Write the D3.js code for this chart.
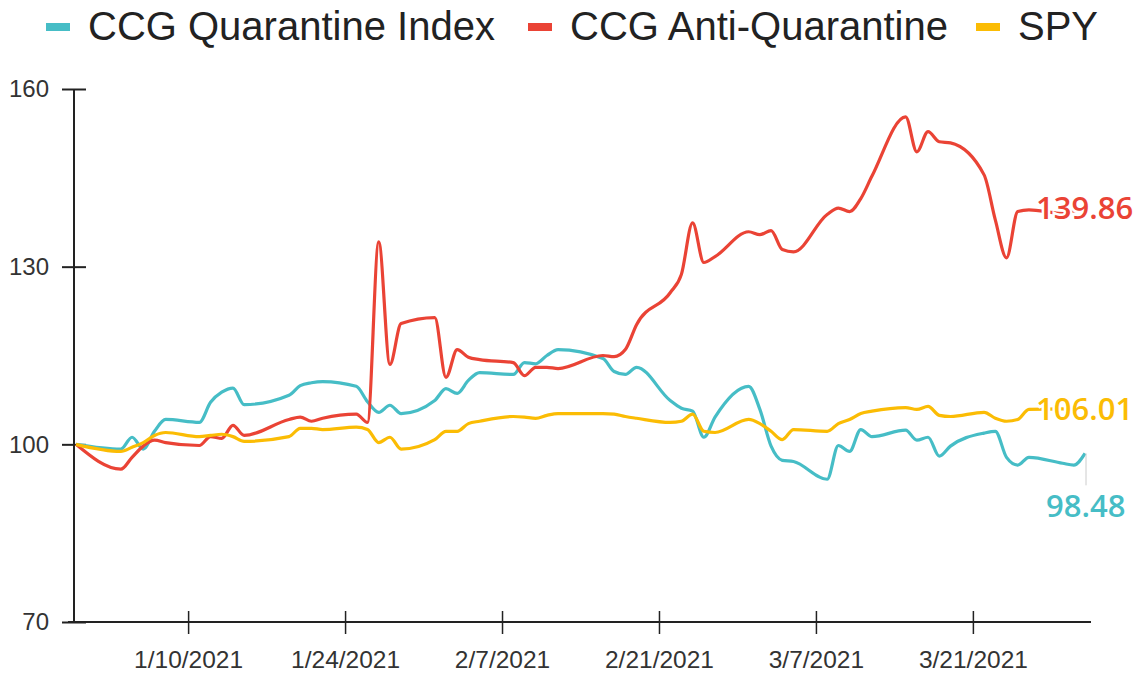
<!DOCTYPE html>
<html>
<head>
<meta charset="utf-8">
<script src="https://cdn.jsdelivr.net/npm/d3@7/dist/d3.min.js"></script>
<style>
  html, body { margin: 0; padding: 0; background: #fff; }
  svg { display: block; }
</style>
</head>
<body>
<svg id="chart" width="1141" height="673"></svg>
<script>
const dates = [
  "2020-12-31",
  "2021-01-04","2021-01-05","2021-01-06","2021-01-07","2021-01-08",
  "2021-01-11","2021-01-12","2021-01-13","2021-01-14","2021-01-15",
  "2021-01-19","2021-01-20","2021-01-21","2021-01-22",
  "2021-01-25","2021-01-26","2021-01-27","2021-01-28","2021-01-29",
  "2021-02-01","2021-02-02","2021-02-03","2021-02-04","2021-02-05",
  "2021-02-08","2021-02-09","2021-02-10","2021-02-11","2021-02-12",
  "2021-02-16","2021-02-17","2021-02-18","2021-02-19",
  "2021-02-22","2021-02-23","2021-02-24","2021-02-25","2021-02-26",
  "2021-03-01","2021-03-02","2021-03-03","2021-03-04","2021-03-05",
  "2021-03-08","2021-03-09","2021-03-10","2021-03-11","2021-03-12",
  "2021-03-15","2021-03-16","2021-03-17","2021-03-18","2021-03-19",
  "2021-03-22","2021-03-23","2021-03-24","2021-03-25","2021-03-26",
  "2021-03-29","2021-03-30","2021-03-31"
];

const quarantine = [
  100,
  99.2, 101.2, 99.2, 102.2, 104.2,
  103.7, 107.1, 108.8, 109.5, 106.7,
  108.3, 109.9, 110.4, 110.6,
  109.8, 107.2, 105.4, 106.6, 105.2,
  107.4, 109.4, 108.6, 110.8, 112.1,
  111.8, 113.8, 113.6, 115.0, 116.0,
  114.5, 112.3, 111.8, 113.0,
  107.4, 106.1, 105.6, 101.2, 104.6,
  109.8, 105.9, 99.7, 97.3, 97.1,
  94.1, 99.8, 98.8, 102.5, 101.3,
  102.4, 100.7, 101.2, 98.0, 99.7,
  101.9, 102.2, 97.8, 96.5, 97.8,
  96.8, 96.5, 98.48
];

const antiQuarantine = [
  100,
  95.8, 97.8, 99.7, 100.7, 100.3,
  99.8, 101.3, 101.0, 103.2, 101.5,
  104.2, 104.6, 103.9, 104.4,
  105.1, 103.7, 134.2, 113.5, 120.4,
  121.4, 111.3, 116.0, 114.7, 114.3,
  113.8, 111.6, 113.0, 113.0, 112.8,
  115.0, 114.8, 116.0, 120.2,
  125.6, 128.7, 137.4, 130.7, 131.7,
  135.9, 135.4, 136.1, 132.9, 132.5,
  138.8, 139.9, 139.3, 141.5, 145.3,
  155.3, 149.4, 152.8, 151.1, 150.9,
  145.5, 137.9, 131.5, 139.3, 139.6,
  139.0, 139.4, 139.86
];

const spy = [
  100,
  98.8, 99.5, 100.3, 101.5, 102.0,
  101.3, 101.5, 101.7, 101.3, 100.5,
  101.3, 102.7, 102.7, 102.5,
  102.9, 102.5, 100.3, 101.2, 99.2,
  100.8, 102.2, 102.2, 103.5, 103.9,
  104.7, 104.6, 104.4, 104.9, 105.2,
  105.2, 105.1, 104.7, 104.4,
  103.7, 103.9, 105.1, 102.2, 102.0,
  104.2, 103.5, 102.2, 100.8, 102.5,
  102.2, 103.5, 104.2, 105.2, 105.6,
  106.2, 105.9, 106.4, 104.9, 104.7,
  105.4, 104.4, 103.9, 104.2, 105.9,
  106.0, 105.8, 106.01
];

const seriesNames = ["CCG Quarantine Index", "CCG Anti-Quarantine", "SPY"];
const seriesColors = ["#46BDC6", "#EA4335", "#FBBC04"];
const yTicks = [70, 100, 130, 160];
const xTickDates = ["2021-01-10","2021-01-24","2021-02-07","2021-02-21","2021-03-07","2021-03-21"];

const parse = d3.utcParse("%Y-%m-%d");
const fmt = d3.utcFormat("%-m/%-d/%Y");
const seriesValues = [quarantine, antiQuarantine, spy];

const svg = d3.select("#chart");
const x = d3.scaleUtc()
  .domain([parse(dates[0]), parse(dates[dates.length - 1])])
  .range([76, 1085]);
const y = d3.scaleLinear().domain([70, 160]).range([622, 89]);

// Legend
const legendX = [46, 528, 976];
const legend = svg.append("g");
seriesNames.forEach((n, i) => {
  legend.append("rect")
    .attr("x", legendX[i]).attr("y", 23).attr("width", 24).attr("height", 8)
    .attr("fill", seriesColors[i]);
  legend.append("text")
    .attr("x", legendX[i] + 42).attr("y", 40)
    .attr("font-family", "Liberation Sans, Arial, sans-serif")
    .attr("font-size", 40).attr("fill", "#222")
    .text(n);
});

// Axes
const axisColor = "#222";
const yAxis = svg.append("g").attr("transform", "translate(74,0)")
  .call(d3.axisLeft(y).tickValues(yTicks).tickSize(12).tickPadding(12).tickFormat(d3.format("d")));
yAxis.select(".domain").remove();
yAxis.selectAll(".tick line").attr("x2", 12).attr("x1", -12).attr("stroke", axisColor).attr("stroke-width", 2);
yAxis.selectAll("text").attr("font-family", "Liberation Sans, Arial, sans-serif").attr("font-size", 24).attr("fill", "#333").attr("x", -25);
svg.append("line").attr("x1", 74).attr("x2", 74).attr("y1", y(160)).attr("y2", y(70))
  .attr("stroke", axisColor).attr("stroke-width", 2);

const xAxis = svg.append("g").attr("transform", `translate(0,${y(70)})`)
  .call(d3.axisBottom(x).tickValues(xTickDates.map(parse)).tickSize(12).tickFormat(fmt));
xAxis.select(".domain").remove();
xAxis.selectAll(".tick line").attr("y1", -11).attr("y2", 12).attr("stroke", axisColor).attr("stroke-width", 1.5);
xAxis.selectAll("text").attr("font-family", "Liberation Sans, Arial, sans-serif").attr("font-size", 24.5).attr("fill", "#333").attr("y", 29);
svg.append("line").attr("x1", 68).attr("x2", 1091).attr("y1", y(70)).attr("y2", y(70))
  .attr("stroke", axisColor).attr("stroke-width", 2);

// Lines
const line = d3.line()
  .x((d, i) => x(parse(dates[i])))
  .y(d => y(d))
  .curve(d3.curveMonotoneX);

seriesValues.forEach((vals, i) => {
  svg.append("path")
    .datum(vals)
    .attr("fill", "none")
    .attr("stroke", seriesColors[i])
    .attr("stroke-width", 3.2)
    .attr("stroke-linejoin", "round")
    .attr("d", line);
});

// End labels
const lastX = x(parse(dates[dates.length - 1]));
const endVals = seriesValues.map(v => v[v.length - 1]);
svg.append("line")
  .attr("x1", lastX + 1).attr("x2", lastX + 1)
  .attr("y1", y(endVals[0])).attr("y2", y(endVals[0]) + 32)
  .attr("stroke", "#ccc").attr("stroke-width", 1);

const labelSpecs = [
  { i: 0, dx: -39, dy: 64 },
  { i: 1, dx: -49, dy: 11 },
  { i: 2, dx: -49, dy: 11 }
];
labelSpecs.forEach(s => {
  svg.append("text")
    .attr("x", lastX + s.dx)
    .attr("y", y(endVals[s.i]) + s.dy)
    .attr("font-family", "Open Sans, Noto Sans, sans-serif")
    .attr("font-weight", 600)
    .attr("font-size", 31)
    .attr("fill", seriesColors[s.i])
    .attr("stroke", "#fff").attr("stroke-width", 5)
    .attr("paint-order", "stroke")
    .text(d3.format(".2f")(endVals[s.i]));
});
</script>
</body>
</html>
